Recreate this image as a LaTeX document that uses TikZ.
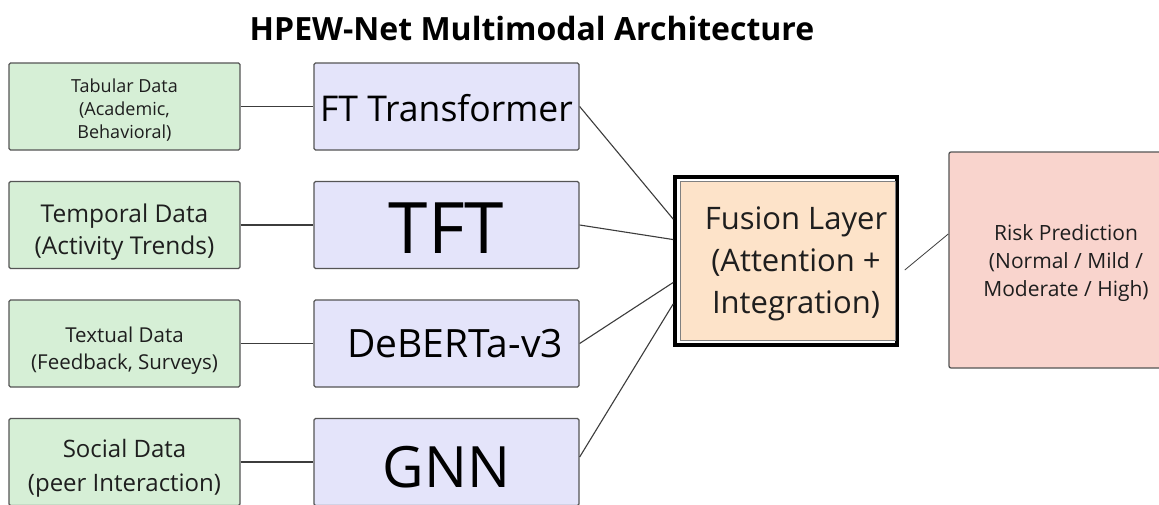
\documentclass[tikz,border=0pt]{standalone}
\usepackage{fontspec}
\setmainfont{Open Sans}
\usetikzlibrary{calc}

\definecolor{srcfill}{RGB}{214,239,214}
\definecolor{encfill}{RGB}{228,228,250}
\definecolor{fusefill}{RGB}{253,227,201}
\definecolor{riskfill}{RGB}{249,212,205}
\definecolor{boxline}{RGB}{85,85,85}
\definecolor{wire}{RGB}{60,60,60}
\definecolor{ink}{RGB}{30,30,30}

\newcommand{\fs}[2]{\fontsize{#1}{#2}\selectfont}

\tikzset{
  srcbox/.style={draw=boxline, line width=1.3pt, fill=srcfill, rounded corners=1.5pt,
    minimum width=231pt, minimum height=87pt, inner sep=0pt},
  encbox/.style={draw=boxline, line width=1.3pt, fill=encfill, rounded corners=1.5pt,
    minimum width=265pt, minimum height=87pt, inner sep=0pt},
  riskbox/.style={draw=boxline, line width=1.3pt, fill=riskfill, rounded corners=2pt,
    minimum width=234pt, minimum height=216pt, inner sep=0pt},
  txt/.style={align=center, inner sep=0pt, text=ink},
  link/.style={draw=wire, line width=1.1pt},
}

\begin{document}
\begin{tikzpicture}[x=1pt, y=-1pt]
\useasboundingbox (0,0) rectangle (1159,504);
\fill[white] (0,0) rectangle (1159,504);

% title
\node[font={\fs{32}{36}\bfseries}] (title) at (532,28) {HPEW-Net Multimodal Architecture};

% input data sources
\node[srcbox, label={[txt, font={\fs{18}{23}}, yshift=-4pt]center:Tabular Data\\(Academic,\\Behavioral)}] (tab) at (124.5,106.5) {};
\node[srcbox, label={[txt, font={\fs{24.5}{32}}, yshift=-7pt]center:Temporal Data\\(Activity Trends)}] (tmp) at (124.5,225) {};
\node[srcbox, label={[txt, font={\fs{20.5}{27}}, yshift=-7pt]center:Textual Data\\(Feedback, Surveys)}] (txtd) at (124.5,343.5) {};
\node[srcbox, label={[txt, font={\fs{24}{34}}, yshift=-6pt]center:Social Data\\(peer Interaction)}] (soc) at (124.5,462) {};

% encoders
\node[encbox, label={[txt, text=black, font={\fs{35.5}{40}}, yshift=-2pt]center:FT Transformer}] (ft) at (446.5,106.5) {};
\node[encbox, label={[txt, text=black, font={\fs{71}{76}}, yshift=-3pt]center:TFT}] (tft) at (446.5,225) {};
\node[encbox, label={[txt, text=black, font={\fs{39}{44}}, xshift=8.5pt]center:DeBERTa-v3}] (deb) at (446.5,343.5) {};
\node[encbox, label={[txt, text=black, font={\fs{57}{62}}, yshift=-5pt]center:GNN}] (gnn) at (446.5,462) {};

% fusion layer with double frame
\node[draw=black, line width=3.5pt, fill=white, minimum width=222pt, minimum height=168pt, inner sep=0pt] (fusion) at (786,261) {};
\draw[draw=gray, line width=0.8pt, fill=fusefill]
  ($(fusion.north west)+(7,6)$) rectangle ($(fusion.south east)+(-3,-6)$);
\node[txt, font={\fs{31}{42}}] (fusetext) at (796,264) {Fusion Layer\\(Attention +\\Integration)};

% output
\node[riskbox, label={[txt, font={\fs{21}{28}}, yshift=-3pt]center:Risk Prediction\\(Normal / Mild /\\Moderate / High)}] (risk) at (1066,260) {};

% data sources to encoders
\draw[link] (tab.east) -- (ft.west);
\draw[link] (tmp.east) -- (tft.west);
\draw[link, line width=0.7pt] (txtd.east) -- (deb.west);
\draw[link] (soc.east) -- (gnn.west);

% encoders into fusion
\coordinate (f1) at ($(fusion.north west)!0.256!(fusion.south west)$);
\coordinate (f2) at ($(fusion.north west)!0.375!(fusion.south west)$);
\coordinate (f3) at ($(fusion.north west)!0.625!(fusion.south west)$);
\coordinate (f4) at ($(fusion.north west)!0.75!(fusion.south west)$);
\draw[link] (ft.east) -- (f1);
\draw[link] (tft.east) -- (f2);
\draw[link] (deb.east) -- (f3);
\draw[link] ([yshift=5pt]gnn.east) -- (f4);

% fusion to prediction
\coordinate (fo) at ($(fusion.east)+(6,9)$);
\coordinate (ri) at ($(risk.north west)!0.38!(risk.south west)$);
\draw[link, line width=0.8pt] (fo) -- (ri);
\end{tikzpicture}
\end{document}
